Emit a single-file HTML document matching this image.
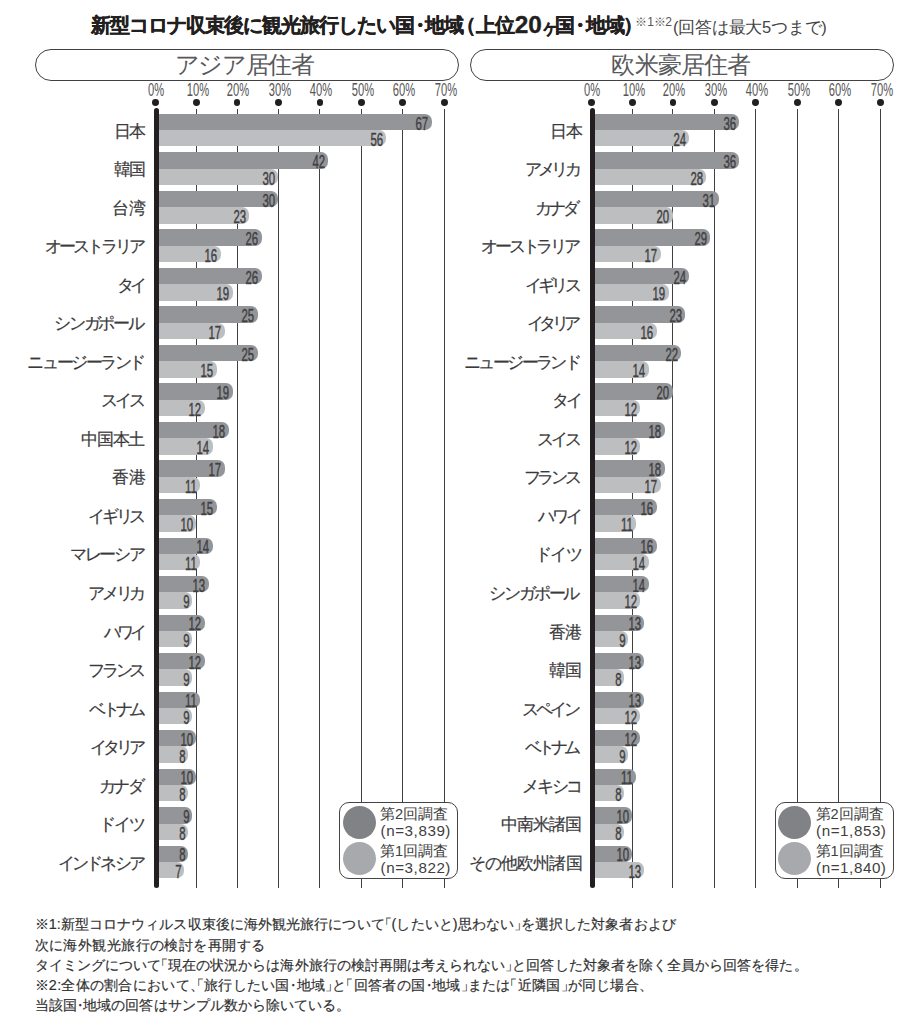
<!DOCTYPE html>
<html lang="ja"><head><meta charset="utf-8"><title>新型コロナ収束後に観光旅行したい国・地域</title>
<style>
html,body{margin:0;padding:0;background:#fff;}
body{width:910px;height:1023px;position:relative;overflow:hidden;font-family:"Liberation Sans",sans-serif;color:#333;}
.a{position:absolute;white-space:nowrap;}
.title{left:90.6px;top:11px;height:28px;line-height:28px;font-size:19.8px;font-weight:bold;color:#231f20;letter-spacing:-1px;-webkit-text-stroke:0.35px #231f20;}
.title .m{margin:0 -0.2em 0 -0.17em;}
.title .po{margin-left:-0.39em;margin-right:0.08em;}
.title .pc{margin-left:-0.03em;margin-right:-0.3em;}
.title .n{font-size:24.4px;letter-spacing:0.1px;line-height:20px;position:relative;top:1px;margin:0 1px 0 0.5px;}
.title .ke{font-size:19.8px;display:inline-block;transform:scaleX(0.8);margin:0 -4.1px 0 -3.4px;position:relative;top:1.5px;}
.title .m2{margin:0 -0.17em 0 -0.17em;}
.title .sup{font-weight:normal;-webkit-text-stroke:0;font-size:12px;letter-spacing:-0.3px;color:#555;position:relative;top:-6px;margin-left:-0.8px;}
.title .sub{font-weight:normal;-webkit-text-stroke:0;font-size:16.5px;letter-spacing:-0.25px;color:#444;margin-left:1.5px;position:relative;top:0.5px;}
.pill{box-sizing:border-box;height:32px;top:49px;border:1px solid #414042;border-radius:16px;background:#fff;text-align:center;line-height:31px;font-size:23.5px;color:#58595b;}
.tk{width:50px;margin-left:-25px;text-align:center;top:80px;height:20px;line-height:20px;font-size:18px;color:#555;}
.tk span{display:inline-block;transform:scaleX(0.62);transform-origin:50% 50%;}
.dot{width:6.8px;height:6.8px;margin-left:-3.4px;top:99px;border-radius:50%;background:#231f20;}
.grid{width:1px;margin-left:-0.5px;top:109px;height:779px;background:#414042;}
.axis{width:5px;margin-left:-2px;top:108px;height:779.7px;background:#231f20;border-radius:2.5px;}
.bar{height:16.35px;border-radius:0 7px 7px 0;}
.d{background:#939598;}
.l{background:#bcbec0;}
.v{height:16px;line-height:16px;font-size:19px;font-weight:normal;-webkit-text-stroke:0.45px #414042;color:#414042;text-align:right;width:40px;}
.v span{display:inline-block;transform:scaleX(0.6);transform-origin:100% 50%;}
.lab{height:20px;line-height:20px;font-size:16.6px;color:#3a3a3c;-webkit-text-stroke:0.2px #3a3a3c;text-align:right;width:150px;}
.leg{box-sizing:border-box;top:802px;width:119px;height:77.2px;border:1px solid #444;border-radius:10px;background:#fff;}
.c{width:33px;height:33px;border-radius:50%;left:2.6px;}
.lt{left:40px;height:18px;line-height:18px;font-size:14.6px;color:#404040;}
.ln{font-size:15.2px;letter-spacing:0.55px;left:40.6px;}
.fn{left:34.6px;height:20px;line-height:20px;font-size:14.4px;color:#303030;-webkit-text-stroke:0.18px #303030;}
.fn .o{margin-left:-0.5em;}
.fn .c2{margin-right:-0.5em;}
.fn .m{margin:0 -0.25em;}

</style></head><body>
<div class="a title">新型コロナ収束後に観光旅行したい国<span class="m">・</span>地域<span class="po">（</span>上位<span class="n">20</span><span class="ke">ヶ</span>国<span class="m2">・</span>地域<span class="pc">）</span><span class="sup">※1※2</span><span class="sub">(回答は最大5つまで)</span></div>
<div class="a pill" style="left:34.5px;width:424px;letter-spacing:-1.3px;padding-right:4.6px;">アジア居住者</div>
<div class="a pill" style="left:470px;width:424px;letter-spacing:-0.8px;padding-right:2px;">欧米豪居住者</div>
<div class="a tk" style="left:156px"><span>0%</span></div>
<div class="a dot" style="left:155.8px"></div>
<div class="a tk" style="left:197.9px"><span>10%</span></div>
<div class="a grid" style="left:196.4px"></div>
<div class="a dot" style="left:196.4px"></div>
<div class="a tk" style="left:238.5px"><span>20%</span></div>
<div class="a grid" style="left:237px"></div>
<div class="a dot" style="left:237px"></div>
<div class="a tk" style="left:280px"><span>30%</span></div>
<div class="a grid" style="left:278.5px"></div>
<div class="a dot" style="left:278.5px"></div>
<div class="a tk" style="left:321.4px"><span>40%</span></div>
<div class="a grid" style="left:319.9px"></div>
<div class="a dot" style="left:319.9px"></div>
<div class="a tk" style="left:362.9px"><span>50%</span></div>
<div class="a grid" style="left:361.4px"></div>
<div class="a dot" style="left:361.4px"></div>
<div class="a tk" style="left:404.1px"><span>60%</span></div>
<div class="a grid" style="left:402.6px"></div>
<div class="a dot" style="left:402.6px"></div>
<div class="a tk" style="left:445.8px"><span>70%</span></div>
<div class="a grid" style="left:444.3px"></div>
<div class="a dot" style="left:444.3px"></div>
<div class="a bar d" style="left:155.8px;top:113.8px;width:275.99px"></div>
<div class="a v" style="left:388.39px;top:115.5px"><span>67</span></div>
<div class="a bar l" style="left:155.8px;top:130.15px;width:230.32px"></div>
<div class="a v" style="left:342.72px;top:132.25px"><span>56</span></div>
<div class="a lab" style="left:-5px;top:121.75px"><span style="letter-spacing:-1.44px;margin-right:0.16px">日本</span></div>
<div class="a bar d" style="left:155.8px;top:152.32px;width:172.4px"></div>
<div class="a v" style="left:284.8px;top:154.02px"><span>42</span></div>
<div class="a bar l" style="left:155.8px;top:168.67px;width:122.7px"></div>
<div class="a v" style="left:235.1px;top:170.77px"><span>30</span></div>
<div class="a lab" style="left:-5px;top:160.27px"><span style="letter-spacing:-1.76px;margin-right:0.48px">韓国</span></div>
<div class="a bar d" style="left:155.8px;top:190.84px;width:122.7px"></div>
<div class="a v" style="left:235.1px;top:192.54px"><span>30</span></div>
<div class="a bar l" style="left:155.8px;top:207.19px;width:93.65px"></div>
<div class="a v" style="left:206.05px;top:209.29px"><span>23</span></div>
<div class="a lab" style="left:-5px;top:198.79px"><span style="letter-spacing:-0px;margin-right:-1.28px">台湾</span></div>
<div class="a bar d" style="left:155.8px;top:229.36px;width:106.1px"></div>
<div class="a v" style="left:218.5px;top:231.06px"><span>26</span></div>
<div class="a bar l" style="left:155.8px;top:245.71px;width:64.96px"></div>
<div class="a v" style="left:177.36px;top:247.81px"><span>16</span></div>
<div class="a lab" style="left:-5px;top:237.31px"><span style="letter-spacing:-3.05px;margin-right:2.41px">オーストラリア</span></div>
<div class="a bar d" style="left:155.8px;top:267.88px;width:106.1px"></div>
<div class="a v" style="left:218.5px;top:269.58px"><span>26</span></div>
<div class="a bar l" style="left:155.8px;top:284.23px;width:77.14px"></div>
<div class="a v" style="left:189.54px;top:286.33px"><span>19</span></div>
<div class="a lab" style="left:-5px;top:275.83px"><span style="letter-spacing:-3.36px;margin-right:1.12px">タイ</span></div>
<div class="a bar d" style="left:155.8px;top:306.4px;width:101.95px"></div>
<div class="a v" style="left:214.35px;top:308.1px"><span>25</span></div>
<div class="a bar l" style="left:155.8px;top:322.75px;width:69.02px"></div>
<div class="a v" style="left:181.42px;top:324.85px"><span>17</span></div>
<div class="a lab" style="left:-5px;top:314.35px"><span style="letter-spacing:-2.24px;margin-right:2.4px">シンガポール</span></div>
<div class="a bar d" style="left:155.8px;top:344.92px;width:101.95px"></div>
<div class="a v" style="left:214.35px;top:346.62px"><span>25</span></div>
<div class="a bar l" style="left:155.8px;top:361.27px;width:60.9px"></div>
<div class="a v" style="left:173.3px;top:363.37px"><span>15</span></div>
<div class="a lab" style="left:-5px;top:352.87px"><span style="letter-spacing:-2.43px;margin-right:0.99px">ニュージーランド</span></div>
<div class="a bar d" style="left:155.8px;top:383.44px;width:77.14px"></div>
<div class="a v" style="left:189.54px;top:385.14px"><span>19</span></div>
<div class="a bar l" style="left:155.8px;top:399.79px;width:48.72px"></div>
<div class="a v" style="left:161.12px;top:401.89px"><span>12</span></div>
<div class="a lab" style="left:-5px;top:391.39px"><span style="letter-spacing:-2.88px;margin-right:1.44px">スイス</span></div>
<div class="a bar d" style="left:155.8px;top:421.96px;width:73.08px"></div>
<div class="a v" style="left:185.48px;top:423.66px"><span>18</span></div>
<div class="a bar l" style="left:155.8px;top:438.31px;width:56.84px"></div>
<div class="a v" style="left:169.24px;top:440.41px"><span>14</span></div>
<div class="a lab" style="left:-5px;top:429.91px"><span style="letter-spacing:-1.03px;margin-right:0.55px">中国本土</span></div>
<div class="a bar d" style="left:155.8px;top:460.48px;width:69.02px"></div>
<div class="a v" style="left:181.42px;top:462.18px"><span>17</span></div>
<div class="a bar l" style="left:155.8px;top:476.83px;width:44.66px"></div>
<div class="a v" style="left:157.06px;top:478.93px"><span>11</span></div>
<div class="a lab" style="left:-5px;top:468.43px"><span style="letter-spacing:-0px;margin-right:-1.28px">香港</span></div>
<div class="a bar d" style="left:155.8px;top:499px;width:60.9px"></div>
<div class="a v" style="left:173.3px;top:500.7px"><span>15</span></div>
<div class="a bar l" style="left:155.8px;top:515.35px;width:40.6px"></div>
<div class="a v" style="left:153px;top:517.45px"><span>10</span></div>
<div class="a lab" style="left:-5px;top:506.95px"><span style="letter-spacing:-3.09px;margin-right:1.65px">イギリス</span></div>
<div class="a bar d" style="left:155.8px;top:537.52px;width:56.84px"></div>
<div class="a v" style="left:169.24px;top:539.22px"><span>14</span></div>
<div class="a bar l" style="left:155.8px;top:553.87px;width:44.66px"></div>
<div class="a v" style="left:157.06px;top:555.97px"><span>11</span></div>
<div class="a lab" style="left:-5px;top:545.47px"><span style="letter-spacing:-2.4px;margin-right:1.76px">マレーシア</span></div>
<div class="a bar d" style="left:155.8px;top:576.04px;width:52.78px"></div>
<div class="a v" style="left:165.18px;top:577.74px"><span>13</span></div>
<div class="a bar l" style="left:155.8px;top:592.39px;width:36.54px"></div>
<div class="a v" style="left:149.94px;top:594.49px"><span>9</span></div>
<div class="a lab" style="left:-5px;top:583.99px"><span style="letter-spacing:-3.09px;margin-right:1.65px">アメリカ</span></div>
<div class="a bar d" style="left:155.8px;top:614.56px;width:48.72px"></div>
<div class="a v" style="left:161.12px;top:616.26px"><span>12</span></div>
<div class="a bar l" style="left:155.8px;top:630.91px;width:36.54px"></div>
<div class="a v" style="left:149.94px;top:633.01px"><span>9</span></div>
<div class="a lab" style="left:-5px;top:622.51px"><span style="letter-spacing:-3.68px;margin-right:1.44px">ハワイ</span></div>
<div class="a bar d" style="left:155.8px;top:653.08px;width:48.72px"></div>
<div class="a v" style="left:161.12px;top:654.78px"><span>12</span></div>
<div class="a bar l" style="left:155.8px;top:669.43px;width:36.54px"></div>
<div class="a v" style="left:149.94px;top:671.53px"><span>9</span></div>
<div class="a lab" style="left:-5px;top:661.03px"><span style="letter-spacing:-3.09px;margin-right:1.65px">フランス</span></div>
<div class="a bar d" style="left:155.8px;top:691.6px;width:44.66px"></div>
<div class="a v" style="left:157.06px;top:693.3px"><span>11</span></div>
<div class="a bar l" style="left:155.8px;top:707.95px;width:36.54px"></div>
<div class="a v" style="left:149.94px;top:710.05px"><span>9</span></div>
<div class="a lab" style="left:-5px;top:699.55px"><span style="letter-spacing:-3.94px;margin-right:3.3px">ベトナム</span></div>
<div class="a bar d" style="left:155.8px;top:730.12px;width:40.6px"></div>
<div class="a v" style="left:153px;top:731.82px"><span>10</span></div>
<div class="a bar l" style="left:155.8px;top:746.47px;width:32.48px"></div>
<div class="a v" style="left:145.88px;top:748.57px"><span>8</span></div>
<div class="a lab" style="left:-5px;top:738.07px"><span style="letter-spacing:-4.06px;margin-right:3.42px">イタリア</span></div>
<div class="a bar d" style="left:155.8px;top:768.64px;width:40.6px"></div>
<div class="a v" style="left:153px;top:770.34px"><span>10</span></div>
<div class="a bar l" style="left:155.8px;top:784.99px;width:32.48px"></div>
<div class="a v" style="left:145.88px;top:787.09px"><span>8</span></div>
<div class="a lab" style="left:-5px;top:776.59px"><span style="letter-spacing:-2.4px;margin-right:2.56px">カナダ</span></div>
<div class="a bar d" style="left:155.8px;top:807.16px;width:36.54px"></div>
<div class="a v" style="left:149.94px;top:808.86px"><span>9</span></div>
<div class="a bar l" style="left:155.8px;top:823.51px;width:32.48px"></div>
<div class="a v" style="left:145.88px;top:825.61px"><span>8</span></div>
<div class="a lab" style="left:-5px;top:815.11px"><span style="letter-spacing:-1.68px;margin-right:0.24px">ドイツ</span></div>
<div class="a bar d" style="left:155.8px;top:845.68px;width:32.48px"></div>
<div class="a v" style="left:145.88px;top:847.38px"><span>8</span></div>
<div class="a bar l" style="left:155.8px;top:862.03px;width:28.42px"></div>
<div class="a v" style="left:141.82px;top:864.13px"><span>7</span></div>
<div class="a lab" style="left:-5px;top:853.63px"><span style="letter-spacing:-2.92px;margin-right:2.28px">インドネシア</span></div>
<div class="a axis" style="left:155.8px"></div>
<div class="a leg" style="left:339px">
<div class="a c" style="top:3px;background:#808285"></div>
<div class="a c" style="top:39.2px;background:#a7a9ac"></div>
<div class="a lt lj" style="top:1.6px">第2回調査</div>
<div class="a lt ln" style="top:19.2px">(n=3,839)</div>
<div class="a lt lj" style="top:38.6px">第1回調査</div>
<div class="a lt ln" style="top:56.2px">(n=3,822)</div>
</div>
<div class="a tk" style="left:591.9px"><span>0%</span></div>
<div class="a dot" style="left:591.7px"></div>
<div class="a tk" style="left:633.8px"><span>10%</span></div>
<div class="a grid" style="left:632.3px"></div>
<div class="a dot" style="left:632.3px"></div>
<div class="a tk" style="left:674.4px"><span>20%</span></div>
<div class="a grid" style="left:672.9px"></div>
<div class="a dot" style="left:672.9px"></div>
<div class="a tk" style="left:715.9px"><span>30%</span></div>
<div class="a grid" style="left:714.4px"></div>
<div class="a dot" style="left:714.4px"></div>
<div class="a tk" style="left:757.3px"><span>40%</span></div>
<div class="a grid" style="left:755.8px"></div>
<div class="a dot" style="left:755.8px"></div>
<div class="a tk" style="left:798.8px"><span>50%</span></div>
<div class="a grid" style="left:797.3px"></div>
<div class="a dot" style="left:797.3px"></div>
<div class="a tk" style="left:840px"><span>60%</span></div>
<div class="a grid" style="left:838.5px"></div>
<div class="a dot" style="left:838.5px"></div>
<div class="a tk" style="left:881.7px"><span>70%</span></div>
<div class="a grid" style="left:880.2px"></div>
<div class="a dot" style="left:880.2px"></div>
<div class="a bar d" style="left:591.7px;top:113.8px;width:147.54px"></div>
<div class="a v" style="left:695.84px;top:115.5px"><span>36</span></div>
<div class="a bar l" style="left:591.7px;top:130.15px;width:97.8px"></div>
<div class="a v" style="left:646.1px;top:132.25px"><span>24</span></div>
<div class="a lab" style="left:430.6px;top:121.75px"><span style="letter-spacing:-1.76px;margin-right:-0.16px">日本</span></div>
<div class="a bar d" style="left:591.7px;top:152.32px;width:147.54px"></div>
<div class="a v" style="left:695.84px;top:154.02px"><span>36</span></div>
<div class="a bar l" style="left:591.7px;top:168.67px;width:114.4px"></div>
<div class="a v" style="left:662.7px;top:170.77px"><span>28</span></div>
<div class="a lab" style="left:430.6px;top:160.27px"><span style="letter-spacing:-3.57px;margin-right:2.29px">アメリカ</span></div>
<div class="a bar d" style="left:591.7px;top:190.84px;width:126.84px"></div>
<div class="a v" style="left:675.14px;top:192.54px"><span>31</span></div>
<div class="a bar l" style="left:591.7px;top:207.19px;width:81.2px"></div>
<div class="a v" style="left:629.5px;top:209.29px"><span>20</span></div>
<div class="a lab" style="left:430.6px;top:198.79px"><span style="letter-spacing:-2.72px;margin-right:3.04px">カナダ</span></div>
<div class="a bar d" style="left:591.7px;top:229.36px;width:118.55px"></div>
<div class="a v" style="left:666.85px;top:231.06px"><span>29</span></div>
<div class="a bar l" style="left:591.7px;top:245.71px;width:69.02px"></div>
<div class="a v" style="left:617.32px;top:247.81px"><span>17</span></div>
<div class="a lab" style="left:430.6px;top:237.31px"><span style="letter-spacing:-3.18px;margin-right:2.7px">オーストラリア</span></div>
<div class="a bar d" style="left:591.7px;top:267.88px;width:97.8px"></div>
<div class="a v" style="left:646.1px;top:269.58px"><span>24</span></div>
<div class="a bar l" style="left:591.7px;top:284.23px;width:77.14px"></div>
<div class="a v" style="left:625.44px;top:286.33px"><span>19</span></div>
<div class="a lab" style="left:430.6px;top:275.83px"><span style="letter-spacing:-3.57px;margin-right:2.29px">イギリス</span></div>
<div class="a bar d" style="left:591.7px;top:306.4px;width:93.65px"></div>
<div class="a v" style="left:641.95px;top:308.1px"><span>23</span></div>
<div class="a bar l" style="left:591.7px;top:322.75px;width:64.96px"></div>
<div class="a v" style="left:613.26px;top:324.85px"><span>16</span></div>
<div class="a lab" style="left:430.6px;top:314.35px"><span style="letter-spacing:-4.49px;margin-right:4.01px">イタリア</span></div>
<div class="a bar d" style="left:591.7px;top:344.92px;width:89.5px"></div>
<div class="a v" style="left:637.8px;top:346.62px"><span>22</span></div>
<div class="a bar l" style="left:591.7px;top:361.27px;width:56.84px"></div>
<div class="a v" style="left:605.14px;top:363.37px"><span>14</span></div>
<div class="a lab" style="left:430.6px;top:352.87px"><span style="letter-spacing:-2.55px;margin-right:1.27px">ニュージーランド</span></div>
<div class="a bar d" style="left:591.7px;top:383.44px;width:81.2px"></div>
<div class="a v" style="left:629.5px;top:385.14px"><span>20</span></div>
<div class="a bar l" style="left:591.7px;top:399.79px;width:48.72px"></div>
<div class="a v" style="left:597.02px;top:401.89px"><span>12</span></div>
<div class="a lab" style="left:430.6px;top:391.39px"><span style="letter-spacing:-2.24px;margin-right:-0.64px">タイ</span></div>
<div class="a bar d" style="left:591.7px;top:421.96px;width:73.08px"></div>
<div class="a v" style="left:621.38px;top:423.66px"><span>18</span></div>
<div class="a bar l" style="left:591.7px;top:438.31px;width:48.72px"></div>
<div class="a v" style="left:597.02px;top:440.41px"><span>12</span></div>
<div class="a lab" style="left:430.6px;top:429.91px"><span style="letter-spacing:-2.96px;margin-right:1.68px">スイス</span></div>
<div class="a bar d" style="left:591.7px;top:460.48px;width:73.08px"></div>
<div class="a v" style="left:621.38px;top:462.18px"><span>18</span></div>
<div class="a bar l" style="left:591.7px;top:476.83px;width:69.02px"></div>
<div class="a v" style="left:617.32px;top:478.93px"><span>17</span></div>
<div class="a lab" style="left:430.6px;top:468.43px"><span style="letter-spacing:-3.3px;margin-right:2.02px">フランス</span></div>
<div class="a bar d" style="left:591.7px;top:499px;width:64.96px"></div>
<div class="a v" style="left:613.26px;top:500.7px"><span>16</span></div>
<div class="a bar l" style="left:591.7px;top:515.35px;width:44.66px"></div>
<div class="a v" style="left:592.96px;top:517.45px"><span>11</span></div>
<div class="a lab" style="left:430.6px;top:506.95px"><span style="letter-spacing:-2.96px;margin-right:0.08px">ハワイ</span></div>
<div class="a bar d" style="left:591.7px;top:537.52px;width:64.96px"></div>
<div class="a v" style="left:613.26px;top:539.22px"><span>16</span></div>
<div class="a bar l" style="left:591.7px;top:553.87px;width:56.84px"></div>
<div class="a v" style="left:605.14px;top:555.97px"><span>14</span></div>
<div class="a lab" style="left:430.6px;top:545.47px"><span style="letter-spacing:-1.44px;margin-right:-0.64px">ドイツ</span></div>
<div class="a bar d" style="left:591.7px;top:576.04px;width:56.84px"></div>
<div class="a v" style="left:605.14px;top:577.74px"><span>14</span></div>
<div class="a bar l" style="left:591.7px;top:592.39px;width:48.72px"></div>
<div class="a v" style="left:597.02px;top:594.49px"><span>12</span></div>
<div class="a lab" style="left:430.6px;top:583.99px"><span style="letter-spacing:-2.24px;margin-right:2.56px">シンガポール</span></div>
<div class="a bar d" style="left:591.7px;top:614.56px;width:52.78px"></div>
<div class="a v" style="left:601.08px;top:616.26px"><span>13</span></div>
<div class="a bar l" style="left:591.7px;top:630.91px;width:36.54px"></div>
<div class="a v" style="left:585.84px;top:633.01px"><span>9</span></div>
<div class="a lab" style="left:430.6px;top:622.51px"><span style="letter-spacing:-0.16px;margin-right:-1.76px">香港</span></div>
<div class="a bar d" style="left:591.7px;top:653.08px;width:52.78px"></div>
<div class="a v" style="left:601.08px;top:654.78px"><span>13</span></div>
<div class="a bar l" style="left:591.7px;top:669.43px;width:32.48px"></div>
<div class="a v" style="left:581.78px;top:671.53px"><span>8</span></div>
<div class="a lab" style="left:430.6px;top:661.03px"><span style="letter-spacing:-0.96px;margin-right:-0.96px">韓国</span></div>
<div class="a bar d" style="left:591.7px;top:691.6px;width:52.78px"></div>
<div class="a v" style="left:601.08px;top:693.3px"><span>13</span></div>
<div class="a bar l" style="left:591.7px;top:707.95px;width:48.72px"></div>
<div class="a v" style="left:597.02px;top:710.05px"><span>12</span></div>
<div class="a lab" style="left:430.6px;top:699.55px"><span style="letter-spacing:-2.93px;margin-right:2.45px">スペイン</span></div>
<div class="a bar d" style="left:591.7px;top:730.12px;width:48.72px"></div>
<div class="a v" style="left:597.02px;top:731.82px"><span>12</span></div>
<div class="a bar l" style="left:591.7px;top:746.47px;width:36.54px"></div>
<div class="a v" style="left:585.84px;top:748.57px"><span>9</span></div>
<div class="a lab" style="left:430.6px;top:738.07px"><span style="letter-spacing:-3.94px;margin-right:3.46px">ベトナム</span></div>
<div class="a bar d" style="left:591.7px;top:768.64px;width:44.66px"></div>
<div class="a v" style="left:592.96px;top:770.34px"><span>11</span></div>
<div class="a bar l" style="left:591.7px;top:784.99px;width:32.48px"></div>
<div class="a v" style="left:581.78px;top:787.09px"><span>8</span></div>
<div class="a lab" style="left:430.6px;top:776.59px"><span style="letter-spacing:-2.33px;margin-right:-0.55px">メキシコ</span></div>
<div class="a bar d" style="left:591.7px;top:807.16px;width:40.6px"></div>
<div class="a v" style="left:588.9px;top:808.86px"><span>10</span></div>
<div class="a bar l" style="left:591.7px;top:823.51px;width:32.48px"></div>
<div class="a v" style="left:581.78px;top:825.61px"><span>8</span></div>
<div class="a lab" style="left:430.6px;top:815.11px"><span style="letter-spacing:-0.84px;margin-right:-1.08px">中南米諸国</span></div>
<div class="a bar d" style="left:591.7px;top:845.68px;width:40.6px"></div>
<div class="a v" style="left:588.9px;top:847.38px"><span>10</span></div>
<div class="a bar l" style="left:591.7px;top:862.03px;width:52.78px"></div>
<div class="a v" style="left:601.08px;top:864.13px"><span>13</span></div>
<div class="a lab" style="left:430.6px;top:853.63px"><span style="letter-spacing:-0.94px;margin-right:-0.98px">その他欧州諸国</span></div>
<div class="a axis" style="left:591.7px"></div>
<div class="a leg" style="left:774.5px">
<div class="a c" style="top:3px;background:#808285"></div>
<div class="a c" style="top:39.2px;background:#a7a9ac"></div>
<div class="a lt lj" style="top:1.6px">第2回調査</div>
<div class="a lt ln" style="top:19.2px">(n=1,853)</div>
<div class="a lt lj" style="top:38.6px">第1回調査</div>
<div class="a lt ln" style="top:56.2px">(n=1,840)</div>
</div>
<div class="a fn" style="top:913.8px;letter-spacing:0.08px">※1:新型コロナウィルス収束後に海外観光旅行について<span class="o">「</span>(したいと)思わない<span class="c2">」</span>を選択した対象者および</div>
<div class="a fn" style="top:934.5px;letter-spacing:0.43px">次に海外観光旅行の検討を再開する</div>
<div class="a fn" style="top:954.5px;letter-spacing:0.06px">タイミングについて<span class="o">「</span>現在の状況からは海外旅行の検討再開は考えられない<span class="c2">」</span>と回答した対象者を除く全員から回答を得た。</div>
<div class="a fn" style="top:975px;letter-spacing:0.27px">※2:全体の割合において<span class="c2">、</span><span class="o">「</span>旅行したい国<span class="m">・</span>地域<span class="c2">」</span>と<span class="o">「</span>回答者の国<span class="m">・</span>地域<span class="c2">」</span>または<span class="o">「</span>近隣国<span class="c2">」</span>が同じ場合、</div>
<div class="a fn" style="top:995.2px;letter-spacing:0.01px">当該国<span class="m">・</span>地域の回答はサンプル数から除いている。</div>
</body></html>
